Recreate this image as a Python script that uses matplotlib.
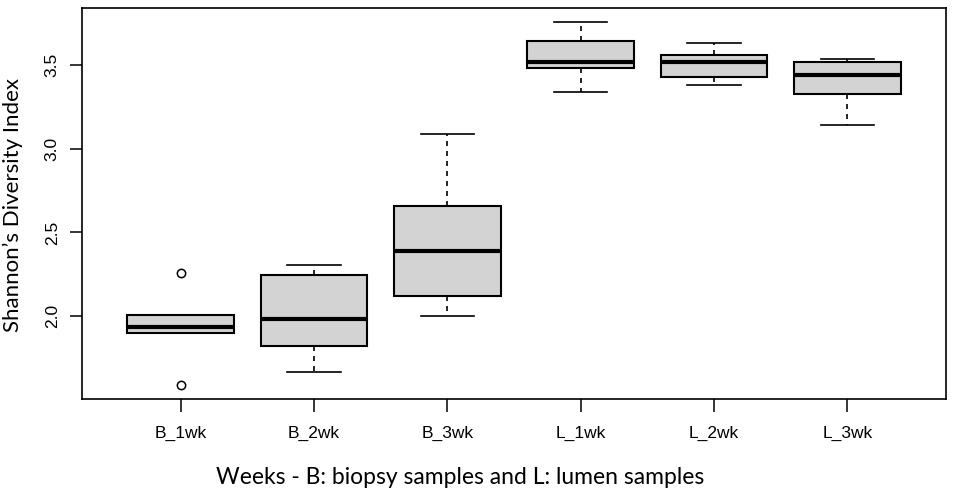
import matplotlib.pyplot as plt
import matplotlib

matplotlib.rcParams.update({'font.family': ['Liberation Sans', 'DejaVu Sans']})

groups = ['B_1wk', 'B_2wk', 'B_3wk', 'L_1wk', 'L_2wk', 'L_3wk']
whisker_lo = [1.900, 1.666, 2.004, 3.337, 3.378, 3.140]
q1 = [1.900, 1.821, 2.123, 3.484, 3.426, 3.325]
medians = [1.937, 1.986, 2.392, 3.520, 3.520, 3.440]
q3 = [2.006, 2.247, 2.660, 3.643, 3.557, 3.520]
whisker_hi = [2.006, 2.304, 3.086, 3.754, 3.633, 3.538]
outliers = [[2.255, 1.592], [], [], [], [], []]

stats = []
for i in range(len(groups)):
    stats.append({'label': groups[i], 'whislo': whisker_lo[i], 'q1': q1[i],
                  'med': medians[i], 'q3': q3[i], 'whishi': whisker_hi[i],
                  'fliers': outliers[i]})

fig = plt.figure(figsize=(9.57, 4.94), dpi=100)
ax = fig.add_axes([0.0857, 0.1923, 0.9028, 0.7915])

ax.bxp(stats, positions=range(1, 7), widths=0.8, patch_artist=True,
       boxprops=dict(facecolor='#d3d3d3', edgecolor='black', linewidth=1.5),
       medianprops=dict(color='black', linewidth=3),
       whiskerprops=dict(color='black', linewidth=1.2, linestyle=(0, (3, 3))),
       capprops=dict(color='black', linewidth=1.2),
       capwidths=0.4,
       flierprops=dict(marker='o', markerfacecolor='none', markeredgecolor='black',
                       markersize=6, markeredgewidth=1.1))

# R style axis ranges (4% padding)
lo = min(min(whisker_lo), min(min(o) for o in outliers if o))
hi = max(whisker_hi)
pad = (hi - lo) * 0.04
ax.set_ylim(lo - pad, hi + pad)
ax.set_xlim(0.5 - 0.24, 6.5 + 0.24)

ax.set_yticks([2.0, 2.5, 3.0, 3.5])
ax.set_yticklabels(['2.0', '2.5', '3.0', '3.5'], rotation=90, va='center', fontsize=12.5)
ax.set_xticks(range(1, 7))
ax.set_xticklabels(groups, fontsize=12.5)
ax.tick_params(axis='both', length=9, width=1.1, color='black')
ax.tick_params(axis='x', pad=10)
ax.tick_params(axis='y', pad=7)
for s in ax.spines.values():
    s.set_linewidth(1.2)

fig.text(0.013, 0.585, "Shannon\u2019s Diversity Index", rotation=90, ha='center', va='center',
         fontsize=16, family=['Lato', 'DejaVu Sans'])
fig.text(0.481, 0.033, 'Weeks - B: biopsy samples and L: lumen samples', ha='center', va='center',
         fontsize=16.5, family=['Lato', 'DejaVu Sans'])

plt.savefig('out.png', dpi=100)
